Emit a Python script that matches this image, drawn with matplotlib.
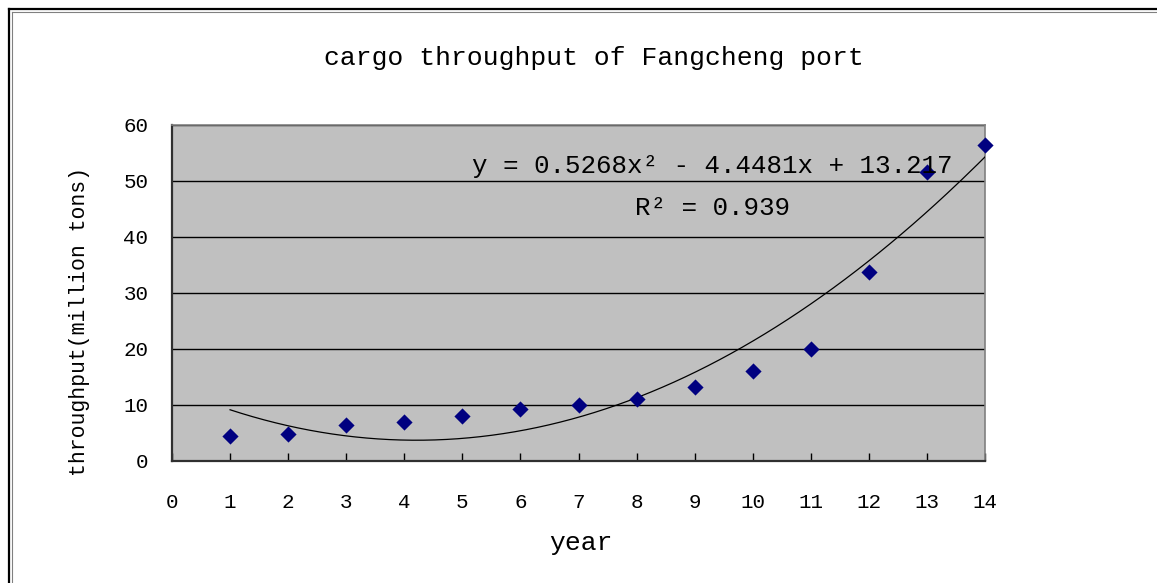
import matplotlib
matplotlib.use("Agg")
from matplotlib import pyplot as plt
from matplotlib.lines import Line2D
import numpy as np

# data
years = [1, 2, 3, 4, 5, 6, 7, 8, 9, 10, 11, 12, 13, 14]
throughput = [4.5, 4.9, 6.4, 6.9, 8.0, 9.2, 10.0, 11.0, 13.2, 16.1, 20.0, 33.8, 51.6, 56.4]
x_ticks = list(range(0, 15))
y_ticks = [0, 10, 20, 30, 40, 50, 60]
eq_label = "y = 0.5268x\u00b2 - 4.4481x + 13.217"
r2_label = "R\u00b2 = 0.939"

mono = "Liberation Mono"

fig = plt.figure(figsize=(11.57, 5.83), dpi=100)
ax = fig.add_axes([172/1157, 1-461/583, 813/1157, 336/583])
ax.set_facecolor("#c0c0c0")

# outer chart border: only left and top edges are inside the picture
W, H = 1157, 583
for off, col, lw in [(8.5, "black", 1.6), (11.5, "#808080", 0.8)]:
    fig.add_artist(Line2D([off/W, off/W], [0, 1-off/H], color=col,
                          linewidth=lw, transform=fig.transFigure))
    fig.add_artist(Line2D([off/W, 1], [1-off/H, 1-off/H], color=col,
                          linewidth=lw, transform=fig.transFigure))

# quadratic trendline fitted to the points
coef = np.polyfit(years, throughput, 2)
xs = np.linspace(years[0], years[-1], 200)
ax.plot(xs, np.polyval(coef, xs), color="black", linewidth=0.9, zorder=3)

ax.scatter(years, throughput, marker="D", s=68, color="#000080", zorder=4,
           clip_on=False, linewidths=0)

ax.set_xlim(0, 14)
ax.set_ylim(0, 60)
ax.set_xticks(x_ticks)
ax.set_yticks(y_ticks)
ax.yaxis.grid(True, color="black", linewidth=1.0)
ax.set_axisbelow(True)

ax.tick_params(axis="x", direction="in", length=6, width=1, pad=23,
               labelsize=15)
ax.tick_params(axis="y", direction="in", length=0, pad=17, labelsize=15)
for lab in ax.get_xticklabels() + ax.get_yticklabels():
    lab.set_fontfamily(mono)

for side in ["top", "right"]:
    ax.spines[side].set_color("#808080")
    ax.spines[side].set_linewidth(1.2)
for side in ["left", "bottom"]:
    ax.spines[side].set_color("#303030")
    ax.spines[side].set_linewidth(1.6)

ax.text(0.665, 0.878, eq_label, transform=ax.transAxes, ha="center",
        va="center", fontsize=18.6, family=mono, zorder=5)
ax.text(0.665, 0.753, r2_label, transform=ax.transAxes, ha="center",
        va="center", fontsize=18.6, family=mono, zorder=5)

fig.text(594/1157, 1-58/583, "cargo throughput of Fangcheng port",
         ha="center", va="center", fontsize=19, family=mono)
fig.text(581/1157, 1-543/583, "year", ha="center", va="center",
         fontsize=19, family=mono)
fig.text(80/1157, 1-321/583, "throughput(million tons)", ha="center",
         va="center", rotation=90, fontsize=15.5, family=mono)

fig.savefig("out.png", dpi=100)
